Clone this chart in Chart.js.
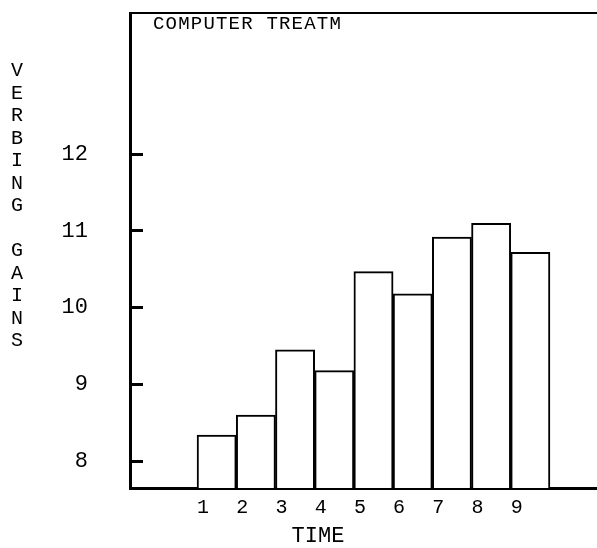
<!DOCTYPE html>
<html>
<head>
<meta charset="utf-8">
<script src="https://cdn.jsdelivr.net/npm/chart.js@4/dist/chart.umd.min.js"></script>
<style>
  html, body { margin: 0; padding: 0; background: #ffffff; }
  #wrap { position: relative; width: 597px; height: 548px; }
  canvas { display: block; }
</style>
</head>
<body>
<div id="wrap"><canvas id="c" width="597" height="548"></canvas></div>
<script>
// ---- data ----
const times = [1, 2, 3, 4, 5, 6, 7, 8, 9];
const gains = [8.34, 8.60, 9.45, 9.18, 10.47, 10.18, 10.92, 11.10, 10.72];
const yTickValues = [8, 9, 10, 11, 12];
const yTitle = "VERBING GAINS";
const xTitle = "TIME";
const panelTitle = "COMPUTER TREATM";

const FONT = "'Liberation Mono', 'DejaVu Sans Mono', monospace";

// each bar covers [t, t+1] on the linear time axis
const barData = times.map((t, i) => ({ x: t + 0.5, y: gains[i] }));

const textPlugin = {
  id: 'plotterText',
  afterDraw(chart) {
    const ctx = chart.ctx;
    const area = chart.chartArea;
    ctx.save();
    ctx.fillStyle = '#000';
    // panel title inside the frame, top-left
    ctx.font = "19px " + FONT;
    ctx.textBaseline = 'top';
    ctx.textAlign = 'left';
    if ('letterSpacing' in ctx) ctx.letterSpacing = '1.2px';
    ctx.fillText(panelTitle, area.left + 23, area.top + 1);
    if ('letterSpacing' in ctx) ctx.letterSpacing = '0px';
    // stacked vertical y-axis title
    ctx.font = "20px " + FONT;
    ctx.textAlign = 'center';
    ctx.textBaseline = 'middle';
    const letters = yTitle.split('');
    letters.forEach((ch, i) => {
      if (ch !== ' ') ctx.fillText(ch, 17, 71 + i * 22.5);
    });
    // x-axis title
    ctx.font = "22px " + FONT;
    ctx.textAlign = 'center';
    ctx.textBaseline = 'middle';
    ctx.fillText(xTitle, 318, 536);
    ctx.restore();
  }
};

new Chart(document.getElementById('c'), {
  type: 'bar',
  data: {
    datasets: [{
      data: barData,
      backgroundColor: '#ffffff',
      borderColor: '#000000',
      borderWidth: 2,
      barPercentage: 1.0,
      categoryPercentage: 1.0,
      borderSkipped: 'bottom'
    }]
  },
  options: {
    responsive: false,
    animation: false,
    devicePixelRatio: 1,
    layout: { padding: { left: 0, top: 13, right: 0, bottom: 0 } },
    plugins: {
      legend: { display: false },
      tooltip: { enabled: false },
      title: { display: false }
    },
    scales: {
      x: {
        type: 'linear',
        position: 'bottom',
        offset: false,
        min: -0.71,
        max: 11.2,
        afterBuildTicks: (scale) => { scale.ticks = times.map(v => ({ value: v })); },
        afterFit: (scale) => { scale.height = 60; scale.paddingLeft = 0; scale.paddingRight = 0; },
        grid: { display: true, offset: false, drawOnChartArea: false, drawTicks: false },
        border: { display: true, color: '#000', width: 3 },
        ticks: {
          align: 'start',
          padding: 8,
          color: '#000',
          font: { family: FONT, size: 20 },
          maxRotation: 0,
          autoSkip: false,
          callback: (v) => String(v)
        }
      },
      xTop: {
        type: 'linear',
        position: 'top',
        offset: false,
        min: -0.71,
        max: 11.2,
        afterFit: (scale) => { scale.height = 0; scale.paddingLeft = 0; scale.paddingRight = 0; },
        grid: { display: false, drawTicks: false },
        border: { display: true, color: '#000', width: 2 },
        ticks: { display: false }
      },
      y: {
        type: 'linear',
        position: 'left',
        min: 7.65,
        max: 13.84,
        afterBuildTicks: (scale) => { scale.ticks = yTickValues.map(v => ({ value: v })); },
        afterFit: (scale) => { scale.width = 130; scale.paddingTop = 0; scale.paddingBottom = 0; },
        grid: { display: true, drawOnChartArea: false, drawTicks: true, tickLength: -13, color: '#000', lineWidth: 3 },
        border: { display: true, color: '#000', width: 3 },
        ticks: {
          padding: 55,
          color: '#000',
          font: { family: FONT, size: 22 },
          callback: (v) => String(v)
        }
      }
    }
  },
  plugins: [textPlugin]
});
</script>
</body>
</html>
